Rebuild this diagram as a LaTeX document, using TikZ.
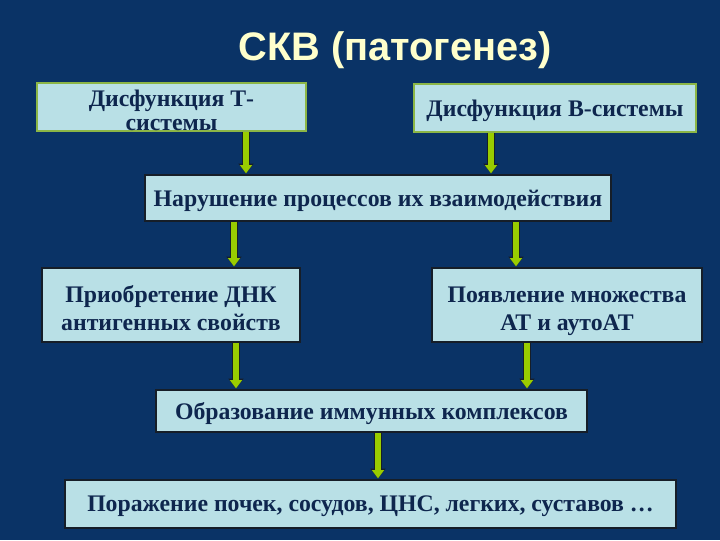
\documentclass[tikz,border=0pt]{standalone}
\usepackage{fontspec}
\setmainfont{Liberation Serif}
\newfontfamily\titlefont{Liberation Sans}
\usetikzlibrary{positioning,calc,arrows.meta}
\definecolor{slidebg}{RGB}{10,51,102}
\definecolor{boxfill}{RGB}{185,224,230}
\definecolor{boxtext}{RGB}{14,38,78}
\definecolor{boxgreen}{RGB}{140,182,70}
\definecolor{boxdark}{RGB}{22,30,40}
\definecolor{arrgreen}{RGB}{153,204,0}
\definecolor{titlecol}{RGB}{255,255,204}
\newcommand{\lowstrut}{\rule{0pt}{16.5pt}}
\tikzset{pbox/.style={draw=boxdark, line width=1.2pt, fill=boxfill, text=boxtext, inner sep=0pt, align=center, text depth=0pt, font=\fontsize{16.9}{17.5}\selectfont\bfseries}}
\tikzset{pboxg/.style={pbox, draw=boxgreen}}
\tikzset{tall/.style={font=\fontsize{16.9}{20}\selectfont\bfseries}}
\tikzset{garr/.style={draw=arrgreen, line width=3.8pt, -{Triangle[width=8.5pt,length=6pt]}, shorten >=0.5pt,
  preaction={draw=boxdark, line width=5.2pt, -{Triangle[width=10.5pt,length=7pt]}}}}
\begin{document}
\begin{tikzpicture}[x=0.025cm, y=-0.025cm]
			\fill[slidebg] (0,0) rectangle (720,540);
			\useasboundingbox (0,0) rectangle (720,540);
			\node[text=titlecol, font=\titlefont\fontsize{28.3}{30}\selectfont\bfseries] (title) at (395,50) {СКВ (патогенез)};
			% boxes
			\node[pboxg, minimum width=6.725cm, minimum height=1.2cm] (tsys) at (171.5,107) {\lowstrut Дисфункция Т-\\системы};
			\node[pboxg, minimum width=7.05cm, minimum height=1.2cm] (bsys) at (555,108) {Дисфункция В-системы};
			\node[pbox, minimum width=11.65cm, minimum height=1.15cm] (inter) at (378,198) {Нарушение процессов их взаимодействия};
			\node[pbox, tall, minimum width=6.45cm, minimum height=1.85cm] (dna) at (171,305) {\lowstrut Приобретение ДНК\\антигенных свойств};
			\node[pbox, tall, minimum width=6.75cm, minimum height=1.85cm] (abs) at (567,305) {\lowstrut Появление множества\\АТ и аутоАТ};
			\node[pbox, minimum width=10.775cm, minimum height=1.05cm] (immun) at (371.5,411) {Образование иммунных комплексов};
			\node[pbox, minimum width=15.275cm, minimum height=1.2cm] (organs) at (370.5,504) {Поражение почек, сосудов, ЦНС, легких, суставов …};
			% arrows
			\draw[garr] (tsys.south -| 246,0) -- (inter.north -| 246,0);
			\draw[garr] (bsys.south -| 491,0) -- (inter.north -| 491,0);
			\draw[garr] (inter.south -| 234,0) -- (dna.north -| 234,0);
			\draw[garr] (inter.south -| 516,0) -- (abs.north -| 516,0);
			\draw[garr] (dna.south -| 236,0) -- (immun.north -| 236,0);
			\draw[garr] (abs.south -| 527,0) -- (immun.north -| 527,0);
			\draw[garr] (immun.south -| 378,0) -- (organs.north -| 378,0);
		\end{tikzpicture}
\end{document}
